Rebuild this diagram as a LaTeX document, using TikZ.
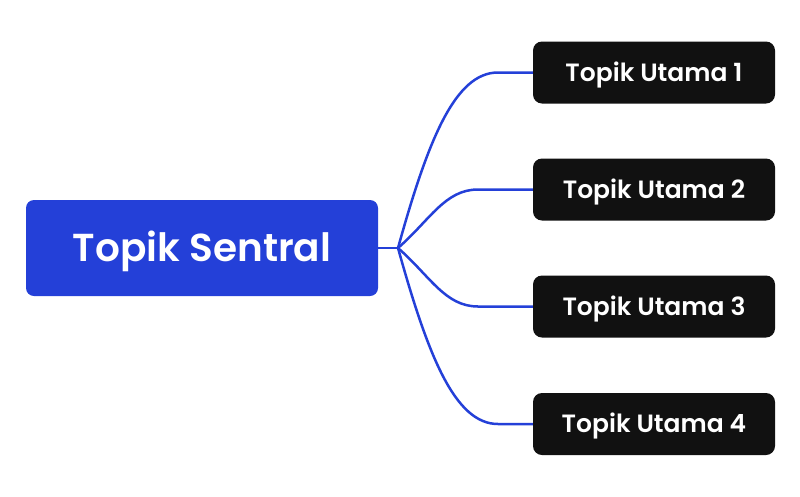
\documentclass[tikz,border=0pt]{standalone}
\usepackage{fontspec}
\setmainfont{Poppins}[UprightFont=* SemiBold, BoldFont=* Bold]
\definecolor{hubblue}{HTML}{2440D8}
\definecolor{topicblack}{HTML}{111111}
\begin{document}
\begin{tikzpicture}[x=1pt,y=-1pt,
  central/.style={fill=hubblue, rounded corners=8pt, text=white, minimum width=352pt, minimum height=96pt, inner sep=0pt, text height=27.3pt, text depth=0pt, font=\fontsize{39}{44}\selectfont},
  topic/.style={fill=topicblack, rounded corners=9pt, text=white, minimum width=242pt, minimum height=62pt, inner sep=0pt, text height=17.5pt, text depth=0pt, font=\fontsize{25}{28}\selectfont},
  link/.style={draw=hubblue, line width=2.5pt}]
\useasboundingbox (0,0) rectangle (800,496);
\node[central] (c) at (202,248) {Topik Sentral};
\coordinate (hub) at (398,248);
\node[topic] (t1) at (654,72.5) {Topik Utama 1};
\node[topic] (t2) at (654,189.5) {Topik Utama 2};
\node[topic] (t3) at (654,306.5) {Topik Utama 3};
\node[topic] (t4) at (654,424) {Topik Utama 4};
\draw[link] (c.east) -- (hub);
\draw[link] (hub) .. controls (428,140) and (455,72.5) .. (498,72.5) -- (t1.west);
\draw[link] (hub) .. controls (430,220) and (445,189.5) .. (478,189.5) -- (t2.west);
\draw[link] (hub) .. controls (430,276) and (445,306.5) .. (478,306.5) -- (t3.west);
\draw[link] (hub) .. controls (428,356) and (455,424) .. (498,424) -- (t4.west);
\end{tikzpicture}
\end{document}
